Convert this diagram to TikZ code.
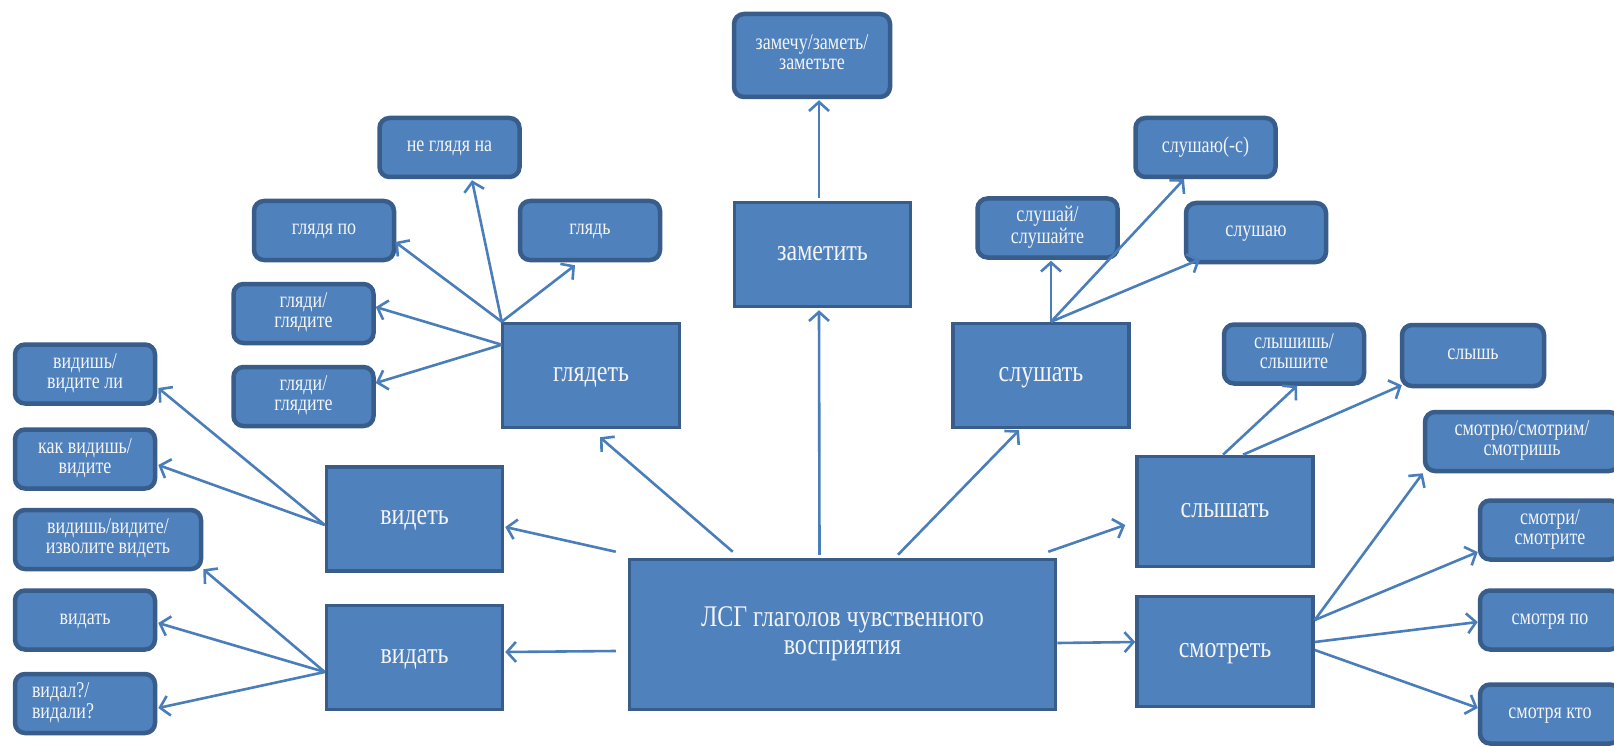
\documentclass[tikz,border=0pt]{standalone}
\usepackage{fontspec}
\usepackage{graphicx}
\setmainfont{Liberation Serif}
\usetikzlibrary{arrows.meta,calc}
\definecolor{boxfill}{HTML}{4F81BD}
\definecolor{boxline}{HTML}{385D8A}
\definecolor{arrcol}{HTML}{4A7EBB}
\definecolor{txt}{HTML}{F4F4F4}
\newcommand{\tx}[1]{\scalebox{1}[1.25]{\begin{tabular}{@{}c@{}}#1\end{tabular}}}
\newcommand{\txl}[1]{\scalebox{1}[1.25]{\begin{tabular}{@{}l@{}}#1\end{tabular}}}
\begin{document}
\begin{tikzpicture}[x=1pt,y=-1pt,
 leaf/.style={draw=boxline, fill=boxfill, line width=4.5pt, rounded corners=10pt, text=txt,
   font=\fontsize{18}{16}\selectfont, align=center, inner sep=2pt,
   minimum width=140pt, minimum height=59pt},
 verb/.style={draw=boxline, fill=boxfill, line width=3.5pt, text=txt,
   font=\fontsize{24}{22.4}\selectfont, align=center, inner sep=2pt,
   minimum width=176pt, minimum height=104pt},
 arr/.style={draw=arrcol, line width=2.6pt, -{Straight Barb[length=9pt,width=20pt]}}]
\useasboundingbox (0,0) rectangle (1614,746);
\fill[white] (0,0) rectangle (1614,746);

% leaf boxes
\node[leaf] (vid1) at (85,374) {\tx{видишь/\\видите ли}};
\node[leaf] (vid2) at (85,459) {\tx{как видишь/\\видите}};
\node[leaf, minimum width=186pt] (vid3) at (108,539.5) {\tx{видишь/видите/\\изволите видеть}};
\node[leaf] (vid4) at (85,620) {\tx{видать}};
\node[leaf, text width=106pt, align=left] (vid5) at (85,703.5) {\txl{видал?/\\видали?}};
\node[leaf] (gl1) at (449.5,147.5) {\tx{не глядя на}};
\node[leaf] (gl2) at (324,230.5) {\tx{глядя по}};
\node[leaf] (gl3) at (590,230.5) {\tx{глядь}};
\node[leaf] (gl4) at (303.5,313.5) {\tx{гляди/\\глядите}};
\node[leaf] (gl5) at (303.5,396.5) {\tx{гляди/\\глядите}};
\node[leaf, minimum width=156pt, minimum height=83pt] (zam1) at (812,55.5) {\tx{замечу/заметь/\\заметьте}};
\node[leaf] (sl1) at (1047.5,228) {\tx{слушай/\\слушайте}};
\node[leaf] (sl2) at (1205.5,147.5) {\tx{слушаю(-с)}};
\node[leaf] (sl3) at (1256,232.5) {\tx{слушаю}};
\node[leaf] (sh1) at (1294,354) {\tx{слышишь/\\слышите}};
\node[leaf, minimum width=142pt, minimum height=61pt] (sh2) at (1473,355.5) {\tx{слышь}};
\node[leaf, minimum width=194pt] (sm1) at (1522,441.5) {\tx{смотрю/смотрим/\\смотришь}};
\node[leaf] (sm2) at (1550,530) {\tx{смотри/\\смотрите}};
\node[leaf] (sm3) at (1550,620) {\tx{смотря по}};
\node[leaf] (sm4) at (1550,714) {\tx{смотря кто}};

% verb boxes
\node[verb, minimum width=177pt] (glyadet) at (591,375.5) {\tx{глядеть}};
\node[verb] (videt) at (414.5,519) {\tx{видеть}};
\node[verb] (vidat) at (414.5,657.5) {\tx{видать}};
\node[verb] (zametit) at (822.5,254.5) {\tx{заметить}};
\node[verb] (slushat) at (1041,375.5) {\tx{слушать}};
\node[verb, minimum height=110pt] (slyshat) at (1225,511.5) {\tx{слышать}};
\node[verb, minimum height=110pt] (smotret) at (1225,651.5) {\tx{смотреть}};
\node[verb, minimum width=426pt, minimum height=150pt] (main) at (842.5,634.5) {\tx{ЛСГ глаголов чувственного\\восприятия}};

% from main
\draw[arr] ($(main.north west)+(-12,-6)$) -- ($(videt.east)+(1,8)$);
\draw[arr] ($(main.west)+(-12,16.5)$) -- ($(vidat.east)+(1,-5.5)$);
\draw[arr] ($(main.north west)+(105,-6)$) -- ($(glyadet.south)+(9,8)$);
\draw[arr] ($(main.north)+(-23,-3)$) -- ($(zametit.south)+(-3.5,2)$);
\draw[arr] ($(main.north)+(55.5,-3)$) -- ($(slushat.south)+(-22,1)$);
\draw[arr] ($(main.north east)+(-9,-6)$) -- ($(slyshat.west)+(-10,13.5)$);
\draw[arr] ($(main.east)+(0,8.5)$) -- ($(smotret.west)+(0,-9.5)$);

% from videt / vidat
\draw[arr] ($(videt.west)+(0,6)$) -- ($(vid1.east)+(1,14)$);
\draw[arr] ($(videt.west)+(0,6)$) -- ($(vid2.east)+(1,6)$);
\draw[arr] ($(vidat.west)+(0,14.5)$) -- ($(vid3.south east)+(0,-2)$);
\draw[arr] ($(vidat.west)+(0,14.5)$) -- ($(vid4.east)+(1,3)$);
\draw[arr] ($(vidat.west)+(0,14.5)$) -- ($(vid5.east)+(1,4.5)$);

% from glyadet
\draw[arr] ($(glyadet.north west)+(1,0)$) -- ($(gl1.south)+(22.5,1)$);
\draw[arr] ($(glyadet.north west)+(1,0)$) -- ($(gl2.east)+(-1,11.5)$);
\draw[arr] ($(glyadet.north west)+(1,0)$) -- ($(gl3.south)+(-15,3)$);
\draw[arr] ($(glyadet.north west)+(1,23)$) -- ($(gl4.east)+(0,-6.5)$);
\draw[arr] ($(glyadet.north west)+(1,23)$) -- ($(gl5.east)+(0,-13.5)$);

% from zametit
\draw[arr] ($(zametit.north)+(-3.5,-3)$) -- ($(zam1.south)+(7,1)$);

% from slushat
\draw[arr] ($(slushat.north)+(10,0)$) -- ($(sl1.south)+(3.5,1)$);
\draw[arr] ($(slushat.north)+(10,0)$) -- ($(sl2.south)+(-21.5,0)$);
\draw[arr] ($(slushat.north)+(10,0)$) -- ($(sl3.south)+(-56,-5)$);

% from slyshat
\draw[arr] ($(slyshat.north)+(-2,0)$) -- ($(sh1.south)+(3,0)$);
\draw[arr] ($(slyshat.north)+(18,0)$) -- ($(sh2.south west)+(2,-3)$);

% from smotret
\draw[arr] ($(smotret.east)+(0,-31.5)$) -- (sm1.south west);
\draw[arr] ($(smotret.east)+(0,-31.5)$) -- ($(sm2.west)+(0,22)$);
\draw[arr] ($(smotret.east)+(0,-9.5)$) -- ($(sm3.west)+(0,2)$);
\draw[arr] ($(smotret.east)+(0,-1.5)$) -- ($(sm4.west)+(0,-6)$);
\end{tikzpicture}
\end{document}
